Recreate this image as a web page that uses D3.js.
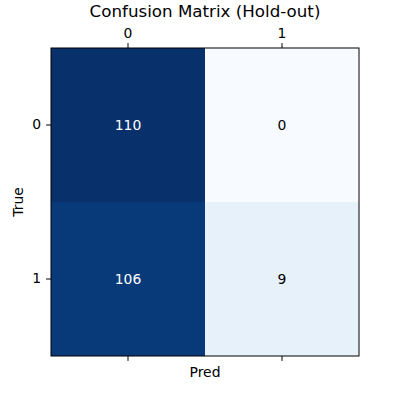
<!DOCTYPE html>
<html><head><meta charset="utf-8">
<script src="https://cdn.jsdelivr.net/npm/d3@7"></script>
<style>body{margin:0;background:#fff}text{font-family:"DejaVu Sans",sans-serif}</style>
</head><body><svg id="c" width="400" height="400"></svg>
<script>
const classes = ['0', '1'];
const matrix = [[110, 0], [106, 9]];

const svg = d3.select('#c');
const mLeft = 51, mTop = 48, size = 308;
const x = d3.scaleBand().domain(classes).range([mLeft, mLeft + size]);
const y = d3.scaleBand().domain(classes).range([mTop, mTop + size]);
const maxV = d3.max(matrix.flat());
const color = v => d3.interpolateBlues(v / maxV);

const cells = [];
matrix.forEach((row, i) => row.forEach((v, j) => cells.push({r: classes[i], c: classes[j], v})));

svg.selectAll('rect.cell').data(cells).enter().append('rect')
  .attr('x', d => x(d.c)).attr('y', d => y(d.r))
  .attr('width', x.bandwidth()).attr('height', y.bandwidth())
  .attr('fill', d => color(d.v));

svg.selectAll('text.val').data(cells).enter().append('text')
  .attr('x', d => x(d.c) + x.bandwidth() / 2).attr('y', d => y(d.r) + y.bandwidth() / 2)
  .attr('dy', '0.35em').attr('text-anchor', 'middle').attr('font-size', 13.9)
  .attr('fill', d => d.v > maxV / 2 ? '#fff' : '#000').text(d => d.v);

svg.append('rect').attr('x', mLeft).attr('y', mTop).attr('width', size).attr('height', size)
  .attr('fill', 'none').attr('stroke', '#000').attr('stroke-width', 1);

const fmt = g => { g.select('.domain').remove(); g.selectAll('text').attr('font-size', 13.9).attr('font-family', 'DejaVu Sans').attr('fill', '#000'); g.selectAll('line').attr('stroke', '#000'); };
svg.append('g').attr('transform', `translate(0,${mTop})`).call(d3.axisTop(x).tickSize(4.9).tickPadding(4.9)).call(fmt);
svg.append('g').attr('transform', `translate(0,${mTop + size})`).call(d3.axisBottom(x).tickSize(4.9).tickFormat('')).call(fmt);
svg.append('g').attr('transform', `translate(${mLeft},0)`).call(d3.axisLeft(y).tickSize(4.9).tickPadding(4.9)).call(fmt);

svg.append('text').attr('x', mLeft + size / 2).attr('y', 17).attr('text-anchor', 'middle')
  .attr('font-size', 16.7).text('Confusion Matrix (Hold-out)');
svg.append('text').attr('x', mLeft + size / 2).attr('y', 377).attr('text-anchor', 'middle')
  .attr('font-size', 13.9).text('Pred');
svg.append('text').attr('transform', `translate(23,${mTop + size / 2}) rotate(-90)`).attr('text-anchor', 'middle')
  .attr('font-size', 13.9).text('True');
</script></body></html>
